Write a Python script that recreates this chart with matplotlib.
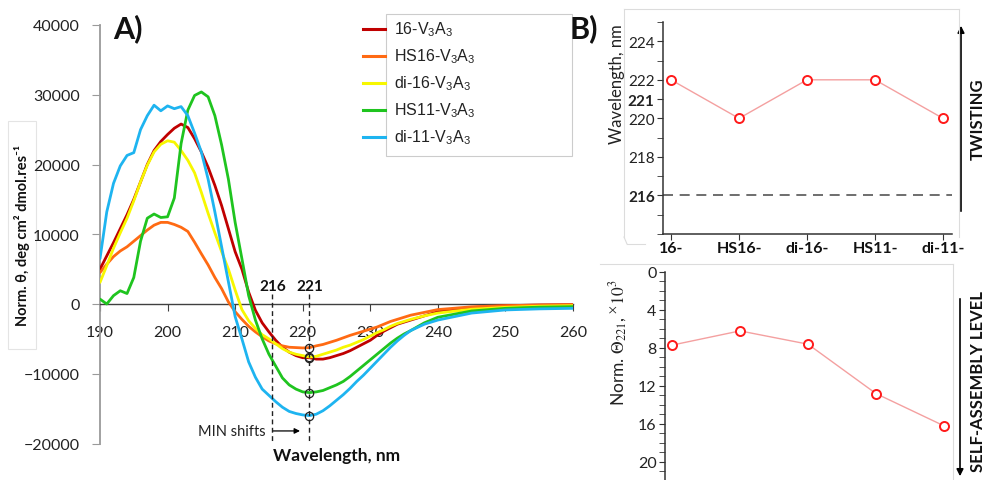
import matplotlib
matplotlib.use("Agg")
import matplotlib.pyplot as plt
from matplotlib.lines import Line2D
from matplotlib.patches import Rectangle, FancyArrowPatch
from matplotlib.ticker import MultipleLocator, FixedLocator

plt.rcParams['font.family'] = ['Lato', 'DejaVu Sans']
plt.rcParams['mathtext.fontset'] = 'custom'
plt.rcParams['mathtext.rm'] = 'Liberation Sans'
plt.rcParams['mathtext.it'] = 'Liberation Sans:italic'
plt.rcParams['mathtext.bf'] = 'Liberation Sans:bold'

# ---------------- data ----------------
wavelength = list(range(190, 237)) + [238, 240, 245, 250, 255, 260]

v_16 = [5000, 6900, 8800, 10800, 12800, 15000, 17500, 20000, 22000, 23300,
        24300, 25200, 25800, 25300, 23700, 21800, 19600, 17000, 14100, 10800,
        7500, 5000, 1700, -900, -2700, -4000, -5200, -6200, -6900, -7400,
        -7700, -7700, -7900, -7900, -7700, -7400, -7100, -6700, -6200, -5700,
        -5200, -4500, -3900, -3400, -2900, -2600, -2300,
        -1700, -1100, -500, -240, -150, -100]
v_hs16 = [4500, 5700, 6800, 7600, 8200, 9000, 9800, 10600, 11300, 11700,
          11700, 11400, 11000, 10400, 8850, 7200, 5600, 3800, 2200, 300,
          -1100, -2200, -3200, -4000, -4700, -5300, -5700, -6000, -6200, -6250,
          -6300, -6250, -6000, -5800, -5500, -5200, -4850, -4500, -4200, -3900,
          -3600, -3300, -2900, -2500, -2200, -1900, -1600,
          -1200, -800, -400, -240, -150, -100]
v_di16 = [3100, 5500, 8000, 10200, 12300, 14800, 17500, 19900, 21800, 22900,
          23400, 23200, 22000, 20600, 18800, 16000, 13000, 10200, 7500, 5000,
          2000, -800, -2400, -3500, -4400, -5000, -5700, -6400, -6900, -7200,
          -7400, -7600, -7500, -7200, -6900, -6600, -6200, -5900, -5500, -5100,
          -4600, -4100, -3700, -3200, -2800, -2500, -2200,
          -1700, -1300, -750, -480, -320, -240]
v_hs11 = [700, 0, 1200, 1900, 1500, 3800, 9000, 12300, 12900, 12400,
          12500, 15200, 23000, 27800, 29900, 30400, 29700, 27000, 22800, 17900,
          11700, 6500, 1200, -2300, -5000, -7200, -8900, -10600, -11600, -12200,
          -12600, -12700, -12600, -12400, -12000, -11600, -11100, -10400, -9600, -8800,
          -8000, -7200, -6400, -5600, -4900, -4300, -3800,
          -2700, -1900, -1000, -620, -450, -380]
v_di11 = [6500, 13200, 17300, 19800, 21300, 21700, 25000, 27000, 28500, 27700,
          28400, 28000, 28300, 27000, 24500, 21800, 17900, 13200, 8200, 3200,
          -1800, -5000, -8300, -10500, -12200, -13100, -14000, -14800, -15400, -15700,
          -15900, -16000, -15800, -15300, -14600, -13800, -13000, -12100, -11100, -10200,
          -9200, -8200, -7200, -6200, -5300, -4500, -3800,
          -2900, -2300, -1300, -850, -700, -620]

series_names = ['16-V$_3$A$_3$', 'HS16-V$_3$A$_3$', 'di-16-V$_3$A$_3$',
                'HS11-V$_3$A$_3$', 'di-11-V$_3$A$_3$']
series_values = [v_16, v_hs16, v_di16, v_hs11, v_di11]
series_colors = ['#c00000', '#ff6a13', '#f7f700', '#1fc41f', '#1eb4f0']

min_lines = [215.5, 221]
min_labels = ['216', '221']

categories = ['16-', 'HS16-', 'di-16-', 'HS11-', 'di-11-']
min_wavelength = [222, 220, 222, 222, 220]
theta221 = [7.7, 6.2, 7.6, 12.8, 16.2]

# ---------------- layout helpers ----------------
W, H = 988, 481
def fx(x): return x / W
def fy(y): return 1 - y / H

fig = plt.figure(figsize=(W / 100, H / 100), dpi=100)

def fline(x0, y0, x1, y1, **kw):
    fig.add_artist(Line2D([fx(x0), fx(x1)], [fy(y0), fy(y1)],
                          transform=fig.transFigure, **kw))

# ---------------- panel A ----------------
axA = fig.add_axes([fx(100), fy(444.5), (573 - 100) / W, (444.5 - 26) / H])
for name, vals, col in zip(series_names, series_values, series_colors):
    axA.plot(wavelength, vals, color=col, lw=2.0, solid_capstyle='round', zorder=3)

axA.set_xlim(190, 260)
axA.set_ylim(-20000, 40000)
axA.set_xticks(range(190, 261, 10))
axA.set_yticks(range(-20000, 40001, 10000))
for s in ['top', 'right']:
    axA.spines[s].set_visible(False)
axA.spines['left'].set_color('#9a9a9a')
axA.spines['left'].set_linewidth(1.3)
axA.spines['bottom'].set_position(('data', 0))
axA.spines['bottom'].set_color('#404040')
axA.spines['bottom'].set_linewidth(1.0)
axA.tick_params(axis='y', direction='out', length=6, color='#9a9a9a', labelsize=11.5,
                pad=8.5, labelcolor='#222222')
axA.tick_params(axis='x', direction='out', length=5, color='#404040', labelsize=11.5,
                pad=10, labelcolor='#222222')

# min shift markers
idx221 = wavelength.index(221)
axA.plot([221] * len(series_values), [v[idx221] for v in series_values], ls='none',
         marker='o', ms=6, mfc='none', mec='#222222', mew=0.9, zorder=5)
for xl, lab in zip(min_lines, min_labels):
    axA.plot([xl, xl], [1400, -19600], color='#222222', lw=1.0, ls=(0, (3.5, 2.5)),
             clip_on=False, zorder=4)
    axA.text(xl, 2650, lab, ha='center', va='center', fontsize=11, fontweight='bold',
             color='#111111')
axA.text(214.5, -18200, 'MIN shifts', ha='right', va='center', fontsize=10.5,
         color='#222222')
axA.annotate('', xy=(219.6, -18200), xytext=(min_lines[0] + 0.1, -18200),
             arrowprops=dict(arrowstyle='-|>', lw=0.9, color='black', mutation_scale=8,
                             shrinkA=0, shrinkB=0))

fig.text(fx(337), fy(456), 'Wavelength, nm', ha='center', va='center', fontsize=12.5,
         fontweight='bold', color='#111111')

# y label with light box (behind the axes)
fig.add_artist(Rectangle((fx(8), fy(350)), (36 - 8) / W, (350 - 122) / H,
                         transform=fig.transFigure, facecolor='white',
                         edgecolor='#e4e4e4', lw=0.8, zorder=-1))
fig.text(fx(22.5), fy(236), 'Norm. θ, deg cm² dmol.res⁻¹', rotation=90, ha='center',
         va='center', fontsize=10.5, fontweight='bold', color='#111111')

fig.text(fx(128), fy(29), 'A)', ha='center', va='center', fontsize=22,
         fontweight='bold', color='#111111')
fig.text(fx(584), fy(29), 'B)', ha='center', va='center', fontsize=22,
         fontweight='bold', color='#111111')

# legend (manual)
fig.add_artist(Rectangle((fx(386), fy(157)), (572 - 386) / W, (157 - 15) / H,
                         transform=fig.transFigure, facecolor='white',
                         edgecolor='#cccccc', lw=0.8))
rows = [30, 57, 84, 111, 138]
for ry, name, col in zip(rows, series_names, series_colors):
    fline(363, ry, 385, ry, color=col, lw=2.2)
    fig.text(fx(394), fy(ry), name, ha='left', va='center', fontsize=11.5,
             family='Liberation Sans', math_fontfamily='custom', color='#222222')

# ---------------- panel B top ----------------
frame_col = '#dcdcdc'
fline(624, 10, 959, 10, color=frame_col, lw=0.8)
fline(624, 10, 624, 238, color=frame_col, lw=0.8)
fline(624, 238, 627, 245, color=frame_col, lw=0.8)
fline(627, 245, 645, 245, color=frame_col, lw=0.8)
fline(959, 10, 959, 238, color=frame_col, lw=0.8)

axB1 = fig.add_axes([fx(663), fy(235), (952 - 663) / W, (235 - 23) / H])
xs = list(range(len(categories)))
axB1.axhline(216, color='#555555', lw=1.2, ls=(0, (6, 4)), zorder=1)
axB1.plot(xs, min_wavelength, color='#f4a0a0', lw=1.0, marker='o', ms=6.5,
          mfc='white', mec='#ff1a1a', mew=1.4, zorder=3)
axB1.set_xlim(-8 / 68, (952 - 671) / 68)
axB1.set_ylim(214, 225)
axB1.yaxis.set_major_locator(FixedLocator([216, 218, 220, 221, 222, 224]))
axB1.set_yticklabels(['216', '218', '220', '221', '222', '224'])
axB1.yaxis.set_minor_locator(MultipleLocator(1))
for lab in axB1.get_yticklabels():
    if lab.get_text() in ('216', '221'):
        lab.set_fontweight('bold')
axB1.set_xticks(xs)
axB1.set_xticklabels(categories, fontweight='bold')
for s in ['top', 'right']:
    axB1.spines[s].set_visible(False)
for s in ['left', 'bottom']:
    axB1.spines[s].set_color('#333333')
    axB1.spines[s].set_linewidth(1.1)
axB1.tick_params(axis='y', which='both', direction='out', length=4, color='#333333',
                 labelsize=11, pad=2, labelcolor='#222222')
axB1.tick_params(axis='x', direction='out', length=4, color='#333333', labelsize=11.5,
                 pad=1, labelcolor='#111111')
axB1.set_facecolor('none')
fig.text(fx(617), fy(84), 'Wavelength, nm', rotation=90, ha='center', va='center',
         fontsize=12, color='#222222')

# ---------------- panel B bottom ----------------
fline(600, 265, 953, 265, color=frame_col, lw=0.8)
fline(953, 265, 953, 481, color=frame_col, lw=0.8)
axB2 = fig.add_axes([fx(665), 0, (952 - 665) / W, (481 - 273) / H])
axB2.plot(xs, theta221, color='#f4a0a0', lw=1.0, marker='o', ms=6.5,
          mfc='white', mec='#ff1a1a', mew=1.4, zorder=3)
axB2.set_xlim(-7 / 68, (952 - 672) / 68)
axB2.set_ylim(21.9, 0)
axB2.yaxis.set_major_locator(FixedLocator([0, 4, 8, 12, 16, 20]))
axB2.yaxis.set_minor_locator(MultipleLocator(1))
axB2.set_xticks([])
for s in ['top', 'right', 'bottom']:
    axB2.spines[s].set_visible(False)
axB2.spines['left'].set_color('#333333')
axB2.spines['left'].set_linewidth(1.1)
axB2.tick_params(axis='y', which='both', direction='out', length=4, color='#333333',
                 labelsize=11.5, pad=2, labelcolor='#222222')
axB2.set_facecolor('none')
fig.text(fx(618), fy(343), r'Norm. $\Theta_{221}$, $^{\times}10^{3}$', rotation=90,
         ha='center', va='center', fontsize=12.5, color='#222222',
         math_fontfamily='stix')

# side arrows and labels
fig.add_artist(FancyArrowPatch((fx(961), fy(215)), (fx(961), fy(24)),
                               transform=fig.transFigure, arrowstyle='-|>',
                               mutation_scale=10, color='black', lw=1.2))
fig.text(fx(978), fy(119), 'TWISTING', rotation=90, ha='center', va='center',
         fontsize=12, fontweight='bold', color='#111111')
fig.add_artist(FancyArrowPatch((fx(960), fy(297)), (fx(960), fy(480)),
                               transform=fig.transFigure, arrowstyle='-|>',
                               mutation_scale=10, color='black', lw=1.2))
fig.text(fx(978), fy(382), 'SELF-ASSEMBLY LEVEL', rotation=90, ha='center',
         va='center', fontsize=12, fontweight='bold', color='#111111')

fig.savefig('out.png', dpi=100)
